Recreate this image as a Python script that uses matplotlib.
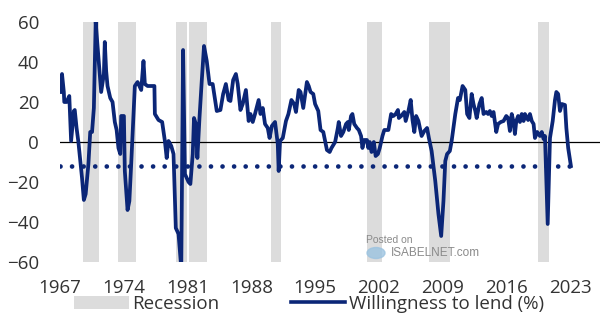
import numpy as np
import matplotlib
matplotlib.use("Agg")
import matplotlib.pyplot as plt
from matplotlib.patches import Patch, Ellipse
from matplotlib.lines import Line2D

# --- data (quarterly-ish, net % willing to lend) ---
years = [
    1967.0, 1967.2, 1967.4, 1967.45, 1967.7, 1968.0, 1968.2, 1968.5, 1968.6, 1968.8,
    1969.0, 1969.4, 1969.6, 1969.8, 1970.1, 1970.3, 1970.5, 1970.7, 1970.9, 1971.0,
    1971.3, 1971.5, 1971.8, 1971.9, 1972.05, 1972.2, 1972.5, 1972.75, 1973.0, 1973.2,
    1973.4, 1973.6, 1973.7, 1974.0, 1974.1, 1974.4, 1974.6, 1974.8, 1975.05, 1975.2,
    1975.5, 1975.9, 1976.15, 1976.3, 1976.6, 1977.35, 1977.4, 1977.8, 1978.2, 1978.5,
    1978.7, 1978.9, 1979.2, 1979.45, 1979.7, 1980.0, 1980.3, 1980.5, 1980.7, 1981.1,
    1981.3, 1981.56, 1981.7, 1981.9, 1982.07, 1982.3, 1982.55, 1982.8, 1983.1, 1983.4,
    1983.75, 1984.2, 1984.6, 1984.9, 1985.2, 1985.5, 1985.7, 1986.0, 1986.3, 1986.5,
    1986.8, 1987.05, 1987.4, 1987.7, 1987.9, 1988.15, 1988.4, 1988.8, 1989.0, 1989.25,
    1989.5, 1989.8, 1990.0, 1990.25, 1990.6, 1990.9, 1991.0, 1991.15, 1991.45, 1991.8,
    1992.07, 1992.4, 1992.7, 1992.9, 1993.2, 1993.4, 1993.7, 1994.1, 1994.3, 1994.5,
    1994.8, 1995.0, 1995.35, 1995.6, 1995.9, 1996.3, 1996.6, 1996.8, 1997.2, 1997.5,
    1997.6, 1997.85, 1998.1, 1998.4, 1998.6, 1998.7, 1998.95, 1999.1, 1999.3, 1999.6,
    1999.8, 2000.05, 2000.2, 2000.4, 2000.7, 2000.85, 2001.0, 2001.2, 2001.45, 2001.65,
    2001.9, 2002.1, 2002.4, 2002.6, 2003.05, 2003.35, 2003.6, 2003.85, 2004.1, 2004.2,
    2004.45, 2004.8, 2004.95, 2005.25, 2005.5, 2005.7, 2005.9, 2006.1, 2006.35, 2006.7,
    2007.0, 2007.3, 2007.5, 2007.8, 2008.2, 2008.55, 2008.85, 2009.1, 2009.3, 2009.5,
    2009.8, 2010.0, 2010.4, 2010.7, 2010.9, 2011.2, 2011.5, 2011.7, 2011.95, 2012.2,
    2012.4, 2012.6, 2012.75, 2013.05, 2013.3, 2013.5, 2013.8, 2014.0, 2014.2, 2014.4,
    2014.6, 2014.9, 2015.1, 2015.4, 2015.7, 2016.0, 2016.2, 2016.4, 2016.6, 2016.8,
    2016.95, 2017.1, 2017.3, 2017.5, 2017.7, 2017.9, 2018.05, 2018.4, 2018.6, 2018.8,
    2019.0, 2019.15, 2019.4, 2019.7, 2019.9, 2020.1, 2020.25, 2020.55, 2020.8, 2021.1,
    2021.35, 2021.5, 2021.7, 2021.9, 2022.1, 2022.45, 2022.6, 2022.8, 2023.1,
]
willingness = [
    25, 34, 25, 20, 20, 23, 0.5, 15.5, 16, 7,
    0, -18, -29, -26, -11, 5, 5, 17, 60, 54,
    37, 25, 34, 50, 35.5, 28, 22, 20, 10, 6,
    -3, -6, 13, 13, -14.5, -34, -29.5, -11, 14, 28,
    30, 26, 40.5, 29, 28, 28, 14, 11, 10, 0.5,
    -8, 0.5, -2, -6, -43, -46, -63, 46, -16, -20,
    -21, -6, 12, 9, -8, 12, 30.5, 48, 40.5, 29,
    29, 15.5, 16, 24, 29, 21, 20.5, 31, 34, 29,
    16, 19, 26, 10.5, 14, 10, 14, 21, 14, 17,
    9, 7, 2, 8, 10, -1, -14.5, 0.5, 2, 10.5,
    14, 21, 19, 15, 26, 25, 17, 30, 28, 25,
    24, 19, 15.5, 6, 5, -4, -5, -3, 0, 7,
    10, 3, 5, 9, 10, 6, 13, 14, 9, 7,
    6, 3, -3, 1, 1, -3, 0, -5, 0, -7,
    -6, -3, 3, 6, 6, 14, 13, 14, 16, 12,
    13, 15, 10.5, 15.5, 21, 11, 5, 13, 10.5, 3,
    5.5, 7, 2, -4.5, -19.5, -36, -47, -29.5, -9.5, -6,
    -4.5, 0.5, 14, 22, 21, 28, 26, 14, 12, 24,
    19, 15.5, 12, 19, 22, 14, 15, 14, 15.5, 13,
    15, 5, 9, 10, 10.5, 13, 12, 5.5, 14, 10,
    4, 10.5, 13, 10, 14, 10.5, 14, 11, 14, 10.5,
    9, 2, 5, 3, 5, 1.5, 3, -41, 2, 10.5,
    21, 25, 24, 15.5, 19, 18.5, 7, -3, -12,
]
long_run_avg = -12

recession_start = [1969.5, 1973.4, 1979.7, 1981.2, 1990.2, 2000.75, 2007.5, 2019.5]
recession_end = [1971.25, 1975.35, 1980.9, 1983.1, 1991.3, 2002.3, 2009.8, 2020.7]

x_ticks = [1967, 1974, 1981, 1988, 1995, 2002, 2009, 2016, 2023]
y_ticks = [-60, -40, -20, 0, 20, 40, 60]

NAVY = "#0b2677"
GREY = "#dcdcdc"
TXT = "#333333"

plt.rcParams['font.family'] = ['Open Sans', 'DejaVu Sans']

fig = plt.figure(figsize=(6, 3.15), dpi=100)
ax = fig.add_axes([60 / 600, (315 - 262) / 315, 540 / 600, 240 / 315])

# recession shading
for s, e in zip(recession_start, recession_end):
    ax.axvspan(s, e, color=GREY, lw=0, zorder=0)

ax.axhline(0, color="black", lw=0.9, zorder=1)

# dotted long-run average
ax.plot([years[0], years[-1]], [long_run_avg, long_run_avg], color=NAVY, lw=3.4,
        ls=(0, (0.001, 2.45)), dash_capstyle="round", zorder=2)

ax.plot(years, willingness, color=NAVY, lw=2.7, solid_joinstyle="round", zorder=3)

ax.set_xlim(1967 - 0.02, 1967 + 540 / 9.107)
ax.set_ylim(-60, 60)
ax.set_xticks(x_ticks)
ax.set_yticks(y_ticks)
ax.tick_params(length=0, labelsize=13.5, colors=TXT)
ax.tick_params(axis="y", pad=15)
ax.tick_params(axis="x", pad=12)
for sp in ax.spines.values():
    sp.set_visible(False)

# watermark
fig.text(366 / 600, 1 - 240 / 315, "Posted on", fontsize=7.5, color="#8a8a8a",
         va="center", ha="left", family=["Liberation Sans", "DejaVu Sans"])
fig.text(391 / 600, 1 - 253 / 315, "ISABELNET.com", fontsize=8.5, color="#8a8a8a",
         va="center", ha="left", family=["Liberation Sans", "DejaVu Sans"])
globe = Ellipse((376, 315 - 253), 18, 11, transform=None, color="#9cc3e0", alpha=0.8)
fig.patches.append(globe)

handles = [Patch(facecolor=GREY, edgecolor="none"),
           Line2D([0], [0], color=NAVY, lw=2.6)]
fig.legend(handles, ["Recession", "Willingness to lend (%)"], loc="center",
           bbox_to_anchor=(0.515, 0.035), ncol=2, frameon=False, fontsize=13.5,
           handlelength=2.9, handletextpad=0.2, columnspacing=3.8, labelcolor=TXT,
           borderpad=0, borderaxespad=0)

fig.savefig("out.png", dpi=100)
